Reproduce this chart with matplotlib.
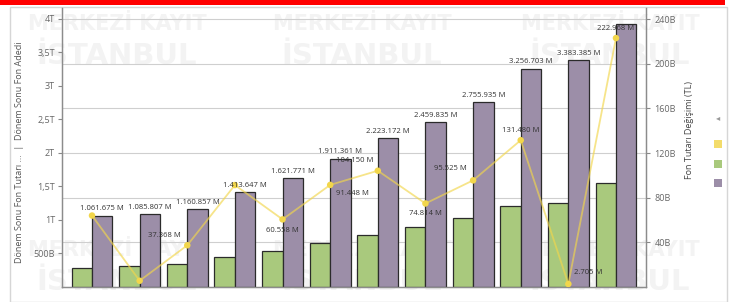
import matplotlib
matplotlib.use('Agg')
import matplotlib.pyplot as plt
from matplotlib.patches import Rectangle
import numpy as np

plt.rcParams['font.family'] = ['Open Sans', 'DejaVu Sans']

# veriler (milyon TL)
months = ['2024-02', '2024-03', '2024-04', '2024-05', '2024-06', '2024-07',
          '2024-08', '2024-09', '2024-10', '2024-11', '2024-12', '2025-01']
fon_tutari = [1061675, 1085807, 1160857, 1413647, 1621771, 1911361,
              2223172, 2459835, 2755935, 3256703, 3383385, 3925000]
fon_adedi = [290000, 310000, 350000, 450000, 540000, 660000,
             780000, 890000, 1030000, 1209000, 1258000, 1548000]
degisim = [64000, 5600, 37368, 91300, 60558, 91448,
           104150, 74814, 95525, 131480, 2705, 222968]

left_ticks = [500000, 1000000, 1500000, 2000000, 2500000, 3000000, 3500000, 4000000]
left_labels = ['500B', '1T', '1,5T', '2T', '2,5T', '3T', '3,5T', '4T']
right_ticks = [40000, 80000, 120000, 160000, 200000, 240000]
right_labels = ['40B', '80B', '120B', '160B', '200B', '240B']

# etiket konumlari (nokta cinsinden), None = gizli
purple_off = [5] * 11 + [None]
yellow_off = [None, None, (-16.5, 7), None, (0, -8), (16, -6.5),
              (-17, 7), (0, -7), (-16.5, 8.5), (0, 7), (14, 8.5), (0, 7)]

C_YEL = '#f2d64b'
C_GRN = '#a9c97d'
C_PUR = '#9c8ea8'
W, H = 733, 302


def fmt(v):
    return '{:,}'.format(v).replace(',', '.') + ' M'


fig = plt.figure(figsize=(W / 100, H / 100), dpi=100)
fig.patch.set_facecolor('white')

# kart cercevesi ve kirmizi serit
fig.patches.append(Rectangle((10 / W, 0), 717 / W, 295 / H, transform=fig.transFigure,
                             facecolor='white', edgecolor='#d6d6d6', lw=1, zorder=-5))
fig.patches.append(Rectangle((0, 1 - 5 / H), 725 / W, 5 / H, transform=fig.transFigure,
                             facecolor='#ff0000', edgecolor='none', zorder=-4))

# filigran (cok soluk)
for cx in [117, 362, 610]:
    for cy in [24, 250]:
        fig.text(cx / W, 1 - cy / H, 'MERKEZİ KAYIT', ha='center', va='center',
                 fontsize=15, fontweight='bold', color='#f3f3f3', zorder=-3,
                 family='DejaVu Sans')
        fig.text(cx / W, 1 - (cy + 32) / H, 'İSTANBUL', ha='center', va='center',
                 fontsize=21, fontweight='bold', color='#f3f3f3', zorder=-3,
                 family='DejaVu Sans')

ax2 = fig.add_axes([62 / W, 15 / H, 584 / W, 279 / H])
ax = ax2.twinx()
ax.yaxis.tick_left()
ax2.yaxis.tick_right()
ax.patch.set_visible(False)
ax2.patch.set_visible(False)

x = np.arange(len(months))
bw = 0.43
ax.bar(x - bw / 2, fon_adedi, bw, color=C_GRN, edgecolor='#2b2b2b', lw=0.9, zorder=2)
ax.bar(x + bw / 2, fon_tutari, bw, color=C_PUR, edgecolor='#2b2b2b', lw=0.9, zorder=2)

ax.set_xlim(-0.63, len(months) - 1 + 0.63)
ax.set_ylim(0, 4164000)
ax2.set_ylim(0, 249900)

for i, v in enumerate(fon_tutari):
    if purple_off[i] is None:
        continue
    ax.annotate(fmt(v), (x[i] + bw / 2, v), xytext=(0, purple_off[i]),
                textcoords='offset points', ha='center', va='center',
                fontsize=5.5, color='#333333', zorder=5)

# degisim cizgisi (sag eksen)
ax.plot(x, degisim, color=C_YEL, lw=1.3, alpha=0.65, transform=ax2.transData, zorder=4)
ax.scatter(x, degisim, s=22, color=C_YEL, edgecolor='none', transform=ax2.transData, zorder=4)
for i, v in enumerate(degisim):
    if yellow_off[i] is None:
        continue
    ax.annotate(fmt(v), (x[i], v), xycoords=ax2.transData, xytext=yellow_off[i],
                textcoords='offset points', ha='center', va='center',
                fontsize=5.5, color='#333333', zorder=6)

# eksenler
ax2.set_yticks(right_ticks)
ax2.set_yticklabels(right_labels)
ax2.grid(axis='y', color='#cfcfcf', lw=0.8)
ax2.set_axisbelow(True)
ax.set_yticks(left_ticks)
ax.set_yticklabels(left_labels)
ax.set_xticks(x)
ax.set_xticklabels(months)
ax.tick_params(axis='x', length=0, pad=4, labelsize=7, labelcolor='#444444')
ax.tick_params(axis='y', length=3, pad=2, labelsize=6.5, labelcolor='#666666', color='#888888')
ax2.tick_params(axis='y', length=3, pad=3, labelsize=6.5, labelcolor='#666666', color='#888888')
ax2.tick_params(axis='x', bottom=False, labelbottom=False)

for a in (ax, ax2):
    a.spines['top'].set_visible(False)
    for s in ('left', 'right', 'bottom'):
        a.spines[s].set_color('#8c8c8c')
        a.spines[s].set_linewidth(0.9)

fig.text(20 / W, 1 - 152 / H, 'Dönem Sonu Fon Tutarı ...  |  Dönem Sonu Fon Adedi',
         rotation=90, ha='center', va='center', fontsize=6.5, color='#555555')
fig.text(690 / W, 1 - 130 / H, 'Fon Tutarı Değişimi (TL)', rotation=90,
         ha='center', va='center', fontsize=6.5, color='#444444')

# lejant
fig.text(718 / W, 1 - 118 / H, '◂', ha='center', va='center', fontsize=6,
         color='#999999', family='DejaVu Sans')
for cy, c in [(144, '#f3dc6b'), (164, C_GRN), (183, C_PUR)]:
    fig.patches.append(Rectangle(((718 - 4) / W, 1 - (cy + 4) / H), 8 / W, 8 / H,
                                 transform=fig.transFigure, facecolor=c, edgecolor='none'))

fig.savefig('out.png', dpi=100)
